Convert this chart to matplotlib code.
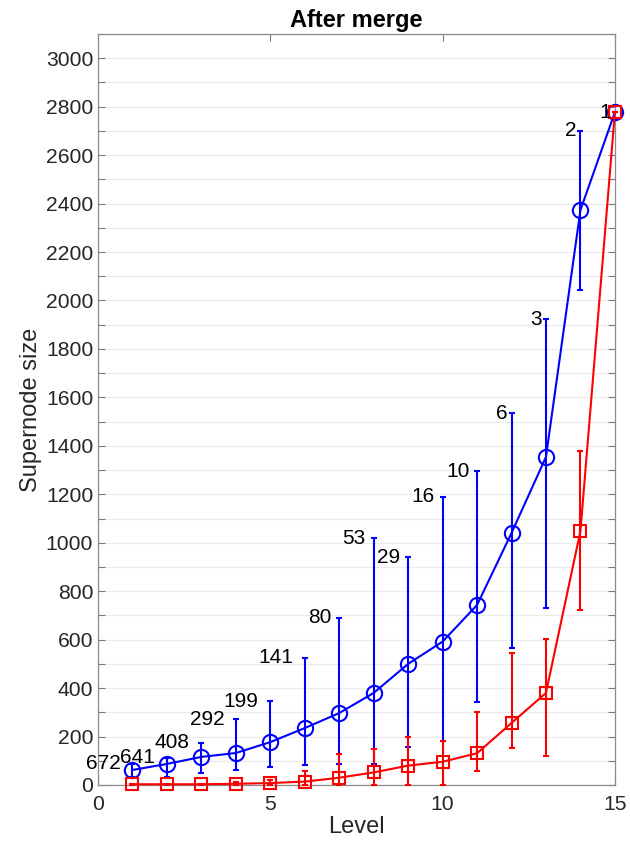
import matplotlib
matplotlib.use("Agg")
import matplotlib.pyplot as plt
import numpy as np
from matplotlib.ticker import MultipleLocator

plt.rcParams['font.family'] = ['Liberation Sans', 'DejaVu Sans']

levels = np.arange(1, 16)

# mean supernode size per level, with min/max bounds
blue_mean = [62, 87, 116, 132, 177, 235, 297, 380, 500, 592, 743, 1040, 1354, 2373, 2777]
blue_hi = [88, 112, 175, 271, 346, 525, 690, 1019, 941, 1189, 1296, 1535, 1923, 2700, 2777]
blue_lo = [33, 33, 48, 62, 75, 83, 88, 87, 157, 182, 342, 565, 730, 2043, 2777]

red_mean = [3, 3, 3, 5, 8, 14, 30, 52, 80, 96, 131, 256, 380, 1048, 2777]
red_hi = [5, 5, 6, 12, 20, 59, 128, 149, 199, 182, 301, 545, 602, 1378, 2777]
red_lo = [1, 1, 1, 1, 1, 0, 0, 0, 0, 0, 59, 153, 120, 722, 2777]

counts = [672, 641, 408, 292, 199, 141, 80, 53, 29, 16, 10, 6, 3, 2, 1]


def err(mean, lo, hi):
    mean = np.array(mean)
    return [mean - np.array(lo), np.array(hi) - mean]


fig = plt.figure(figsize=(6.3, 8.42), dpi=100)
ax = fig.add_axes([0.1556, 0.0677, 0.8204, 0.8919])

ax.errorbar(levels, blue_mean, yerr=err(blue_mean, blue_lo, blue_hi), color=(0, 0, 1),
            marker='o', markersize=11, markerfacecolor='none', markeredgewidth=1.5,
            linewidth=1.5, elinewidth=1.5, capsize=2.5, capthick=1.5, clip_on=False, zorder=3)
ax.errorbar(levels, red_mean, yerr=err(red_mean, red_lo, red_hi), color=(1, 0, 0),
            marker='s', markersize=8.5, markerfacecolor='none', markeredgewidth=1.5,
            linewidth=1.5, elinewidth=1.5, capsize=2.5, capthick=1.5, clip_on=False, zorder=4)

# number of supernodes at each level, next to the top of the blue bar
for x, top, n in zip(levels, blue_hi, counts):
    s = str(n)
    ax.annotate(s, (x, top), xytext=(-2.8 * len(s), 0), textcoords='offset points',
                ha='right', va='center', fontsize=15, color='black', zorder=5)

ax.set_xlim(0, 15)
ax.set_ylim(0, 3100)
ax.set_xticks([0, 5, 10, 15])
ax.yaxis.set_major_locator(MultipleLocator(200))
ax.yaxis.set_minor_locator(MultipleLocator(100))
ax.grid(True, axis='y', which='both', color='#ebebeb', linewidth=0.8, zorder=0)
ax.set_axisbelow(True)

ax.tick_params(which='both', direction='in', top=True, right=True, length=5,
               width=0.8, color='#7a7a7a', labelsize=15.2, labelcolor='#262626')
ax.tick_params(axis='x', pad=7)
for sp in ax.spines.values():
    sp.set_color('#8a8a8a')
    sp.set_linewidth(0.9)

ax.set_title('After merge', fontsize=17, fontweight='bold', pad=5)
ax.set_xlabel('Level', fontsize=17, color='#262626', labelpad=2)
ax.set_ylabel('Supernode size', fontsize=17, color='#262626', labelpad=3)

fig.savefig('out.png', dpi=100)
